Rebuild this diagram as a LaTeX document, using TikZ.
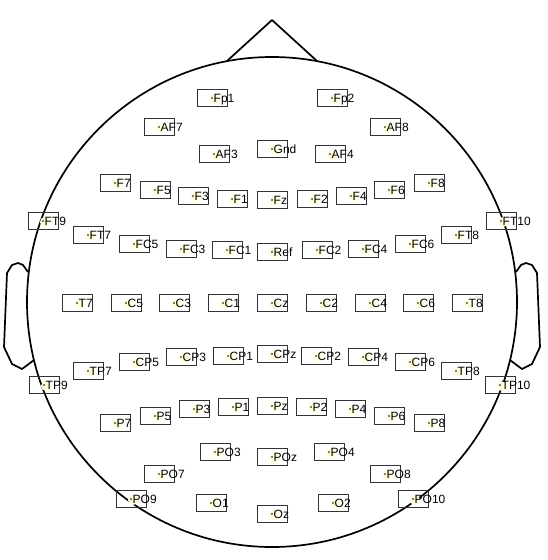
\documentclass[tikz,border=0pt]{standalone}
\usepackage{fontspec}
\setmainfont{Liberation Sans}
\usetikzlibrary{positioning}

\begin{document}
\begin{tikzpicture}[x=1pt,y=-1pt,font=\fontsize{12}{14}\selectfont,
  elbox/.style={draw=black!80,line width=0.8pt,minimum width=30pt,minimum height=17pt,inner sep=0pt},
  ellab/.style={anchor=base west,inner sep=0pt},
  headline/.style={line width=1.7pt,line join=round}]
\useasboundingbox (0,0) rectangle (547,560);
% head, nose and ears
\coordinate (hc) at (272,302);
\draw[headline] (hc) circle (245pt);
\draw[headline] (227,61) -- (272,20) -- (317,61);
\draw[headline] (28,272) -- (23,265) -- (18,263) -- (12,265) -- (7,273) -- (4,347) -- (12,364) -- (22,369) -- (34,360);
\draw[headline] (516,272) -- (521,265) -- (526,263) -- (532,265) -- (537,273) -- (540,347) -- (532,364) -- (522,369) -- (510,360);
% electrodes
\foreach \lab/\x/\y in {Fp1/212/98,Fp2/332/98,AF7/159/127,AF8/385/127,AF3/214/154,Gnd/272/149,AF4/330/154,
  F7/115/183,F5/155/190,F3/193/196,F1/232/199,Fz/272/200,F2/312/199,F4/351/196,F6/389/190,F8/429/183,
  FT9/43/221,FT7/88/235,FC5/134/244,FC3/181/249,FC1/227/250,Ref/272/252,FC2/317/250,FC4/363/249,FC6/410/244,FT8/456/235,FT10/501/221,
  T7/77/303,C5/126/303,C3/174/303,C1/223/303,Cz/272/303,C2/321/303,C4/370/303,C6/418/303,T8/467/303,
  TP9/44/385,TP7/88/371,CP5/134/362,CP3/181/357,CP1/228/356,CPz/272/354,CP2/316/356,CP4/363/357,CP6/410/362,TP8/456/371,TP10/500/385,
  P7/115/423,P5/155/416,P3/194/409,P1/233/407,Pz/272/406,P2/311/407,P4/350/409,P6/389/416,P8/429/423,
  PO7/159/474,PO3/215/452,POz/272/457,PO4/329/452,PO8/385/474,
  PO9/131/499,O1/211/503,Oz/272/514,O2/333/503,PO10/413/499}{
  \fill[yellow!14] (\x+2,\y+1) circle (5pt);
  \node[elbox] (\lab) at (\x,\y) {};
  \fill (\lab.center) circle (0.9pt);
  \node[ellab] at ([xshift=1.5pt,yshift=-4.3pt]\lab.center) {\lab};
}
\end{tikzpicture}
\end{document}
